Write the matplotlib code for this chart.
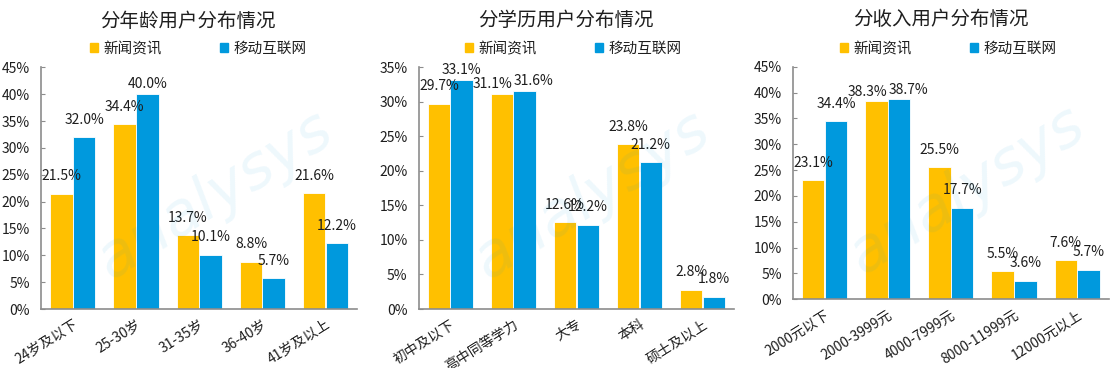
import numpy as np
import matplotlib
matplotlib.use("Agg")
import matplotlib.pyplot as plt
from matplotlib.patches import Patch

plt.rcParams['font.family'] = ['Noto Sans CJK SC', 'DejaVu Sans']

# data
series_names = ['新闻资讯', '移动互联网']

age_cats = ['24岁及以下', '25-30岁', '31-35岁', '36-40岁', '41岁及以上']
age_news = [21.5, 34.4, 13.7, 8.8, 21.6]
age_mobile = [32.0, 40.0, 10.1, 5.7, 12.2]

edu_cats = ['初中及以下', '高中同等学力', '大专', '本科', '硕士及以上']
edu_news = [29.7, 31.1, 12.6, 23.8, 2.8]
edu_mobile = [33.1, 31.6, 12.2, 21.2, 1.8]

inc_cats = ['2000元以下', '2000-3999元', '4000-7999元', '8000-11999元', '12000元以上']
inc_news = [23.1, 38.3, 25.5, 5.5, 7.6]
inc_mobile = [34.4, 38.7, 17.7, 3.6, 5.7]

YELLOW = '#FFC000'
BLUE = '#0099DD'
AXIS = '#8C8C8C'
TEXT = '#1E1E1E'

fig = plt.figure(figsize=(11.13, 3.68), dpi=100)

panels = [
  ("分年龄用户分布情况", age_cats, age_news, age_mobile, 45,
   [0.0371, 0.1603, 0.2837, 0.6568], 0.169, 0.941, 0.178),
  ("分学历用户分布情况", edu_cats, edu_news, edu_mobile, 35,
   [0.3762, 0.1603, 0.2833, 0.6576], 0.5085, 0.944, 0.515),
  ("分收入用户分布情况", inc_cats, inc_news, inc_mobile, 45,
   [0.7125, 0.1867, 0.2836, 0.6321], 0.8455, 0.946, 0.852),
]

for title, cats, news, mobile, ymax, rect, tx, ty, lx in panels:
  ax = fig.add_axes(rect)
  x = np.arange(len(cats))
  w = 0.355
  b1 = ax.bar(x - 0.18, news, w, color=YELLOW, edgecolor='white', linewidth=0.6, zorder=2)
  b2 = ax.bar(x + 0.18, mobile, w, color=BLUE, edgecolor='white', linewidth=0.6, zorder=2)

  # value labels: tall bars get labels closer to the bar,
  # and two tall bars side by side push their labels apart
  high = 0.85 * ymax
  for i in range(len(cats)):
    both_high = news[i] > high and mobile[i] > high
    for bar, v, side in ((b1[i], news[i], -1), (b2[i], mobile[i], 1)):
      dy = 7 if v > high else 12.5
      dx = 6.5 * side if both_high else 0
      ax.annotate(f"{v:.1f}%", (bar.get_x() + bar.get_width() / 2, v),
                  xytext=(dx, dy), textcoords='offset points',
                  ha='center', va='center', fontsize=10, color=TEXT, zorder=4)

  ax.set_xlim(-0.5, len(cats) - 0.5)
  ax.set_ylim(0, ymax)
  ax.set_yticks(np.arange(0, ymax + 1, 5))
  ax.set_yticklabels([f"{t}%" for t in range(0, ymax + 1, 5)], fontsize=10, color=TEXT)
  ax.set_xticks(x)
  ax.set_xticklabels(cats, rotation=32, ha='right', rotation_mode='anchor',
                     fontsize=10, color=TEXT)
  ax.tick_params(axis='y', direction='in', length=3, color=AXIS, pad=8)
  ax.tick_params(axis='x', length=0, pad=6)
  for s in ('top', 'right'):
    ax.spines[s].set_visible(False)
  for s in ('left', 'bottom'):
    ax.spines[s].set_color(AXIS)
    ax.spines[s].set_linewidth(1.2)

  # faint watermark
  ax.text(0.55, 0.47, "analysys", transform=ax.transAxes, fontsize=44,
          style='italic', color=BLUE, alpha=0.07, rotation=32,
          ha='center', va='center', zorder=5, family='DejaVu Sans')

  fig.text(tx, ty, title, ha='center', va='center', fontsize=14, color=TEXT)

  handles = [Patch(color=YELLOW), Patch(color=BLUE)]
  ax.legend(handles, series_names, loc='center', bbox_to_anchor=(lx, 0.867),
            bbox_transform=fig.transFigure, ncol=2, frameon=False,
            handlelength=0.55, handleheight=0.55, handletextpad=0.35,
            columnspacing=4.0, fontsize=10.5, labelcolor=TEXT)

fig.savefig("out.png", dpi=100)
